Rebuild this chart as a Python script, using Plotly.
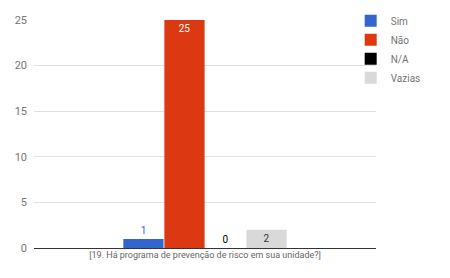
import plotly.graph_objects as go

category = ["[19. Há programa de prevenção de risco em sua unidade?]"]
series_names = ["Sim", "Não", "N/A", "Vazias"]
series_values = [[1], [25], [0], [2]]
colors = ["#3366CC", "#DC3912", "#000000", "#D9D9D9"]
text_colors = ["#3366CC", "#FFFFFF", "#000000", "#333333"]
text_pos = ["outside", "inside", "outside", "inside"]

fig = go.Figure()
for name, vals, c, tc, tp in zip(series_names, series_values, colors, text_colors, text_pos):
    fig.add_trace(go.Bar(
        x=category, y=vals, name=name, marker=dict(color=c, line=dict(width=0)),
        text=[str(v) for v in vals], textposition=tp,
        textfont=dict(color=tc, size=10, family="Roboto"),
        insidetextanchor="end", cliponaxis=False,
    ))

fig.update_layout(
    width=450, height=278,
    margin=dict(l=34, r=74, t=20, b=30, autoexpand=False),
    barmode="group", bargap=0.52, bargroupgap=0.02,
    plot_bgcolor="white", paper_bgcolor="white",
    font=dict(family="Roboto, Arial, sans-serif", size=11, color="#757575"),
    legend=dict(x=0.926, y=1.06, xanchor="left", yanchor="top",
                font=dict(size=10, color="#757575"), itemwidth=30,
                tracegroupgap=0, bgcolor="rgba(0,0,0,0)"),
    yaxis=dict(range=[0, 25], tickvals=[0, 5, 10, 15, 20, 25], gridcolor="#E0E0E0",
               zeroline=True, zerolinecolor="#333333", zerolinewidth=1,
               ticks="", tickfont=dict(size=11, color="#757575"), ticklabelstandoff=6),
    xaxis=dict(tickfont=dict(size=9, color="#666666"), showline=False, ticks=""),
)
fig.write_html("out.html")
